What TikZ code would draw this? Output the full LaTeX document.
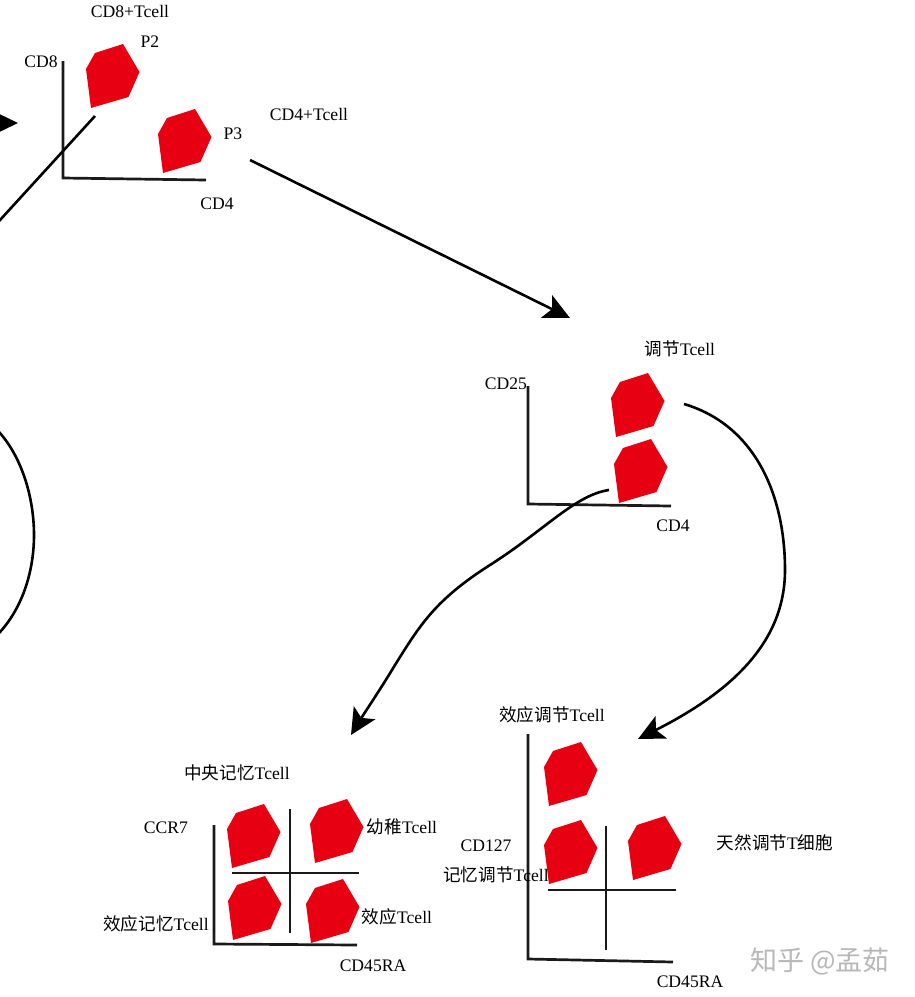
\documentclass[tikz,border=0pt]{standalone}
\usepackage{fontspec}
\setmainfont{Liberation Serif}
\newfontfamily\cjk{Noto Sans CJK SC}
\usetikzlibrary{arrows.meta}
\definecolor{cellred}{HTML}{E60012}
\definecolor{axisgray}{HTML}{1A1A1A}
\tikzset{
  x=1pt,y=-1pt,
  cellblob/.pic={\fill[cellred] (37,0)--(53.5,28)--(42.5,53)--(5,64)--(0,25)--(9,9)--cycle;},
  axisline/.style={draw=axisgray,line width=2.7pt,line join=miter},
  flow/.style={draw=black,line width=2.6pt,-{Stealth[length=26pt,width=25pt,inset=6pt]}},
  flowplain/.style={draw=black,line width=2.6pt},
  lab/.style={font=\fontsize{17.6}{17.6}\selectfont,text=black,inner sep=0pt,anchor=center},
  wmark/.style={font=\fontsize{27}{27}\selectfont\cjk,text=black!28,inner sep=0pt,anchor=center},
}
\begin{document}
\begin{tikzpicture}
\useasboundingbox (0,0) rectangle (914,997);
\clip (0,0) rectangle (914,997);
\fill[white] (0,0) rectangle (914,997);
% blobs
\pic at (86,44) {cellblob};
\pic at (158,109) {cellblob};
\pic at (611,373) {cellblob};
\pic at (614,439) {cellblob};
\pic at (227,804) {cellblob};
\pic at (310,799) {cellblob};
\pic at (228,876) {cellblob};
\pic at (306,879) {cellblob};
\pic at (544,742) {cellblob};
\pic at (544,820) {cellblob};
\pic at (628,816) {cellblob};
% axes
\draw[axisline] (63,61)--(63,178)--(206,180);
\draw[axisline] (528,386)--(528,504)--(671,506);
\draw[axisline] (214,825)--(214,944)--(357,945);
\draw[axisline] (290,809)--(290,933);
\draw[axisline] (232,873)--(359,873);
\draw[axisline] (528,734)--(528,959)--(673,962);
\draw[axisline] (606,826)--(606,950);
\draw[axisline] (548,890)--(676,890);
% connector ends
\coordinate (a1s) at (-40,123);
\coordinate (a1t) at (18,123);
\coordinate (l1s) at (95,116);
\coordinate (l1t) at (-10,231);
\coordinate (c1s) at (-8,425);
\coordinate (c1m) at (34,535);
\coordinate (c1t) at (-8,640);
\coordinate (a2s) at (250,160);
\coordinate (a2t) at (570,318);
\coordinate (a3s) at (684,404);
\coordinate (a3m) at (785,570);
\coordinate (a3t) at (638,739);
\coordinate (a4s) at (609,490);
\coordinate (a4m) at (490,565);
\coordinate (a4t) at (351,735);
\draw[flow] (a1s)--(a1t);
\draw[flowplain] (l1s)--(l1t);
\draw[flowplain] (c1s) .. controls (20,450) and (34,495) .. (c1m) .. controls (34,575) and (20,615) .. (c1t);
\draw[flow] (a2s)--(a2t);
\draw[flow] (a3s) .. controls (755,425) and (785,495) .. (a3m) .. controls (785,640) and (735,690) .. (a3t);
\draw[flow] (a4s) .. controls (575,495) and (545,530) .. (a4m) .. controls (435,600) and (420,625) .. (395,665) .. controls (380,690) and (365,712) .. (a4t);
% labels
\node[lab] (t1) at (130,11) {CD8+Tcell};
\node[lab] (t2) at (150,42) {P2};
\node[lab] (t3) at (41,62) {CD8};
\node[lab] (t4) at (309,114) {CD4+Tcell};
\node[lab] (t5) at (233,134) {P3};
\node[lab] (t6) at (217,204) {CD4};
\node[lab] (t7) at (680,349) {{\cjk 调节}Tcell};
\node[lab] (t8) at (506,384) {CD25};
\node[lab] (t9) at (673,526) {CD4};
\node[lab] (t10) at (237,773) {{\cjk 中央记忆}Tcell};
\node[lab] (t11) at (166,828) {CCR7};
\node[lab] (t12) at (402,827) {{\cjk 幼稚}Tcell};
\node[lab] (t13) at (156,924) {{\cjk 效应记忆}Tcell};
\node[lab] (t14) at (397,917) {{\cjk 效应}Tcell};
\node[lab] (t15) at (373,966) {CD45RA};
\node[lab] (t16) at (552,715) {{\cjk 效应调节}Tcell};
\node[lab] (t17) at (486,846) {CD127};
\node[lab] (t18) at (496,875) {{\cjk 记忆调节}Tcell};
\node[lab] (t19) at (775,843) {{\cjk 天然调节}T{\cjk 细胞}};
\node[lab] (t20) at (690,982) {CD45RA};
\node[wmark] (wm) at (820,961) {知乎 @孟茹};
\end{tikzpicture}
\end{document}
